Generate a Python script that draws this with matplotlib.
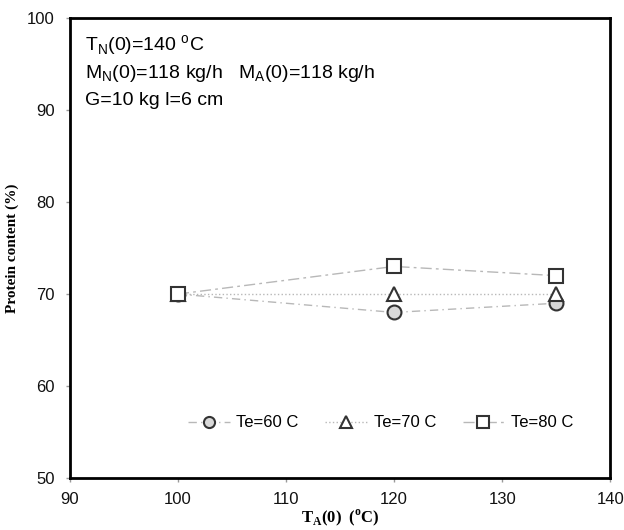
import matplotlib.pyplot as plt

# Data
temp_a = [100, 120, 135]
protein_te60 = [70, 68, 69]
protein_te70 = [70, 70, 70]
protein_te80 = [70, 73, 72]
labels = ["Te=60 C", "Te=70 C", "Te=80 C"]

x_ticks = [90, 100, 110, 120, 130, 140]
y_ticks = [50, 60, 70, 80, 90, 100]

SANS = "Liberation Sans"
SERIF = "Liberation Serif"

fig = plt.figure(figsize=(6.24, 5.30), dpi=100)
ax = fig.add_axes([0.112, 0.098, 0.866, 0.868])

line_col = "#b8b8b8"
ax.plot(temp_a, protein_te60, color=line_col, linestyle=(0, (6, 3, 1, 3)), linewidth=1,
        marker="o", markersize=10, markerfacecolor="#d8d8d8", markeredgecolor="#333333",
        markeredgewidth=1.5, label=labels[0], zorder=3)
ax.plot(temp_a, protein_te70, color=line_col, linestyle=":", linewidth=1,
        marker="^", markersize=10, markerfacecolor="white", markeredgecolor="#333333",
        markeredgewidth=1.5, label=labels[1], zorder=3)
ax.plot(temp_a, protein_te80, color=line_col, linestyle=(0, (8, 3, 2, 3)), linewidth=1,
        marker="s", markersize=10, markerfacecolor="white", markeredgecolor="#333333",
        markeredgewidth=1.5, label=labels[2], zorder=4)

ax.set_xlim(90, 140)
ax.set_ylim(50, 100)
ax.set_xticks(x_ticks)
ax.set_yticks(y_ticks)
ax.tick_params(direction="out", length=3, width=1, color="#999999", labelsize=12, pad=7)
ax.tick_params(axis="y", pad=8)
for lab in ax.get_xticklabels() + ax.get_yticklabels():
    lab.set_family(SANS)
    lab.set_color("#111111")
for s in ax.spines.values():
    s.set_linewidth(2)

ax.set_xlabel(r"T$_\mathregular{A}$(0)  ($^\mathregular{o}$C)", family=SERIF,
              fontweight="bold", fontsize=12, labelpad=0)
ax.set_ylabel("Protein content (%)", family=SERIF, fontweight="bold", fontsize=11)
ax.yaxis.set_label_coords(-0.094, 0.5)

# Operating conditions
ax.text(0.028, 0.94, r"T$_\mathregular{N}$(0)=140 $^\mathregular{o}$C", transform=ax.transAxes,
        family=SANS, fontsize=14, va="center")
ax.text(0.028, 0.88, r"M$_\mathregular{N}$(0)=118 kg/h   M$_\mathregular{A}$(0)=118 kg/h",
        transform=ax.transAxes, family=SANS, fontsize=14, va="center")
ax.text(0.028, 0.82, "G=10 kg l=6 cm", transform=ax.transAxes,
        family=SANS, fontsize=14, va="center")

leg = ax.legend(loc="center", bbox_to_anchor=(0.575, 0.12), ncol=3, frameon=False,
                prop={"family": SANS, "size": 12}, handlelength=2.5, markerscale=0.8,
                columnspacing=1.6, handletextpad=0.4)

plt.savefig("out.png", dpi=100)
